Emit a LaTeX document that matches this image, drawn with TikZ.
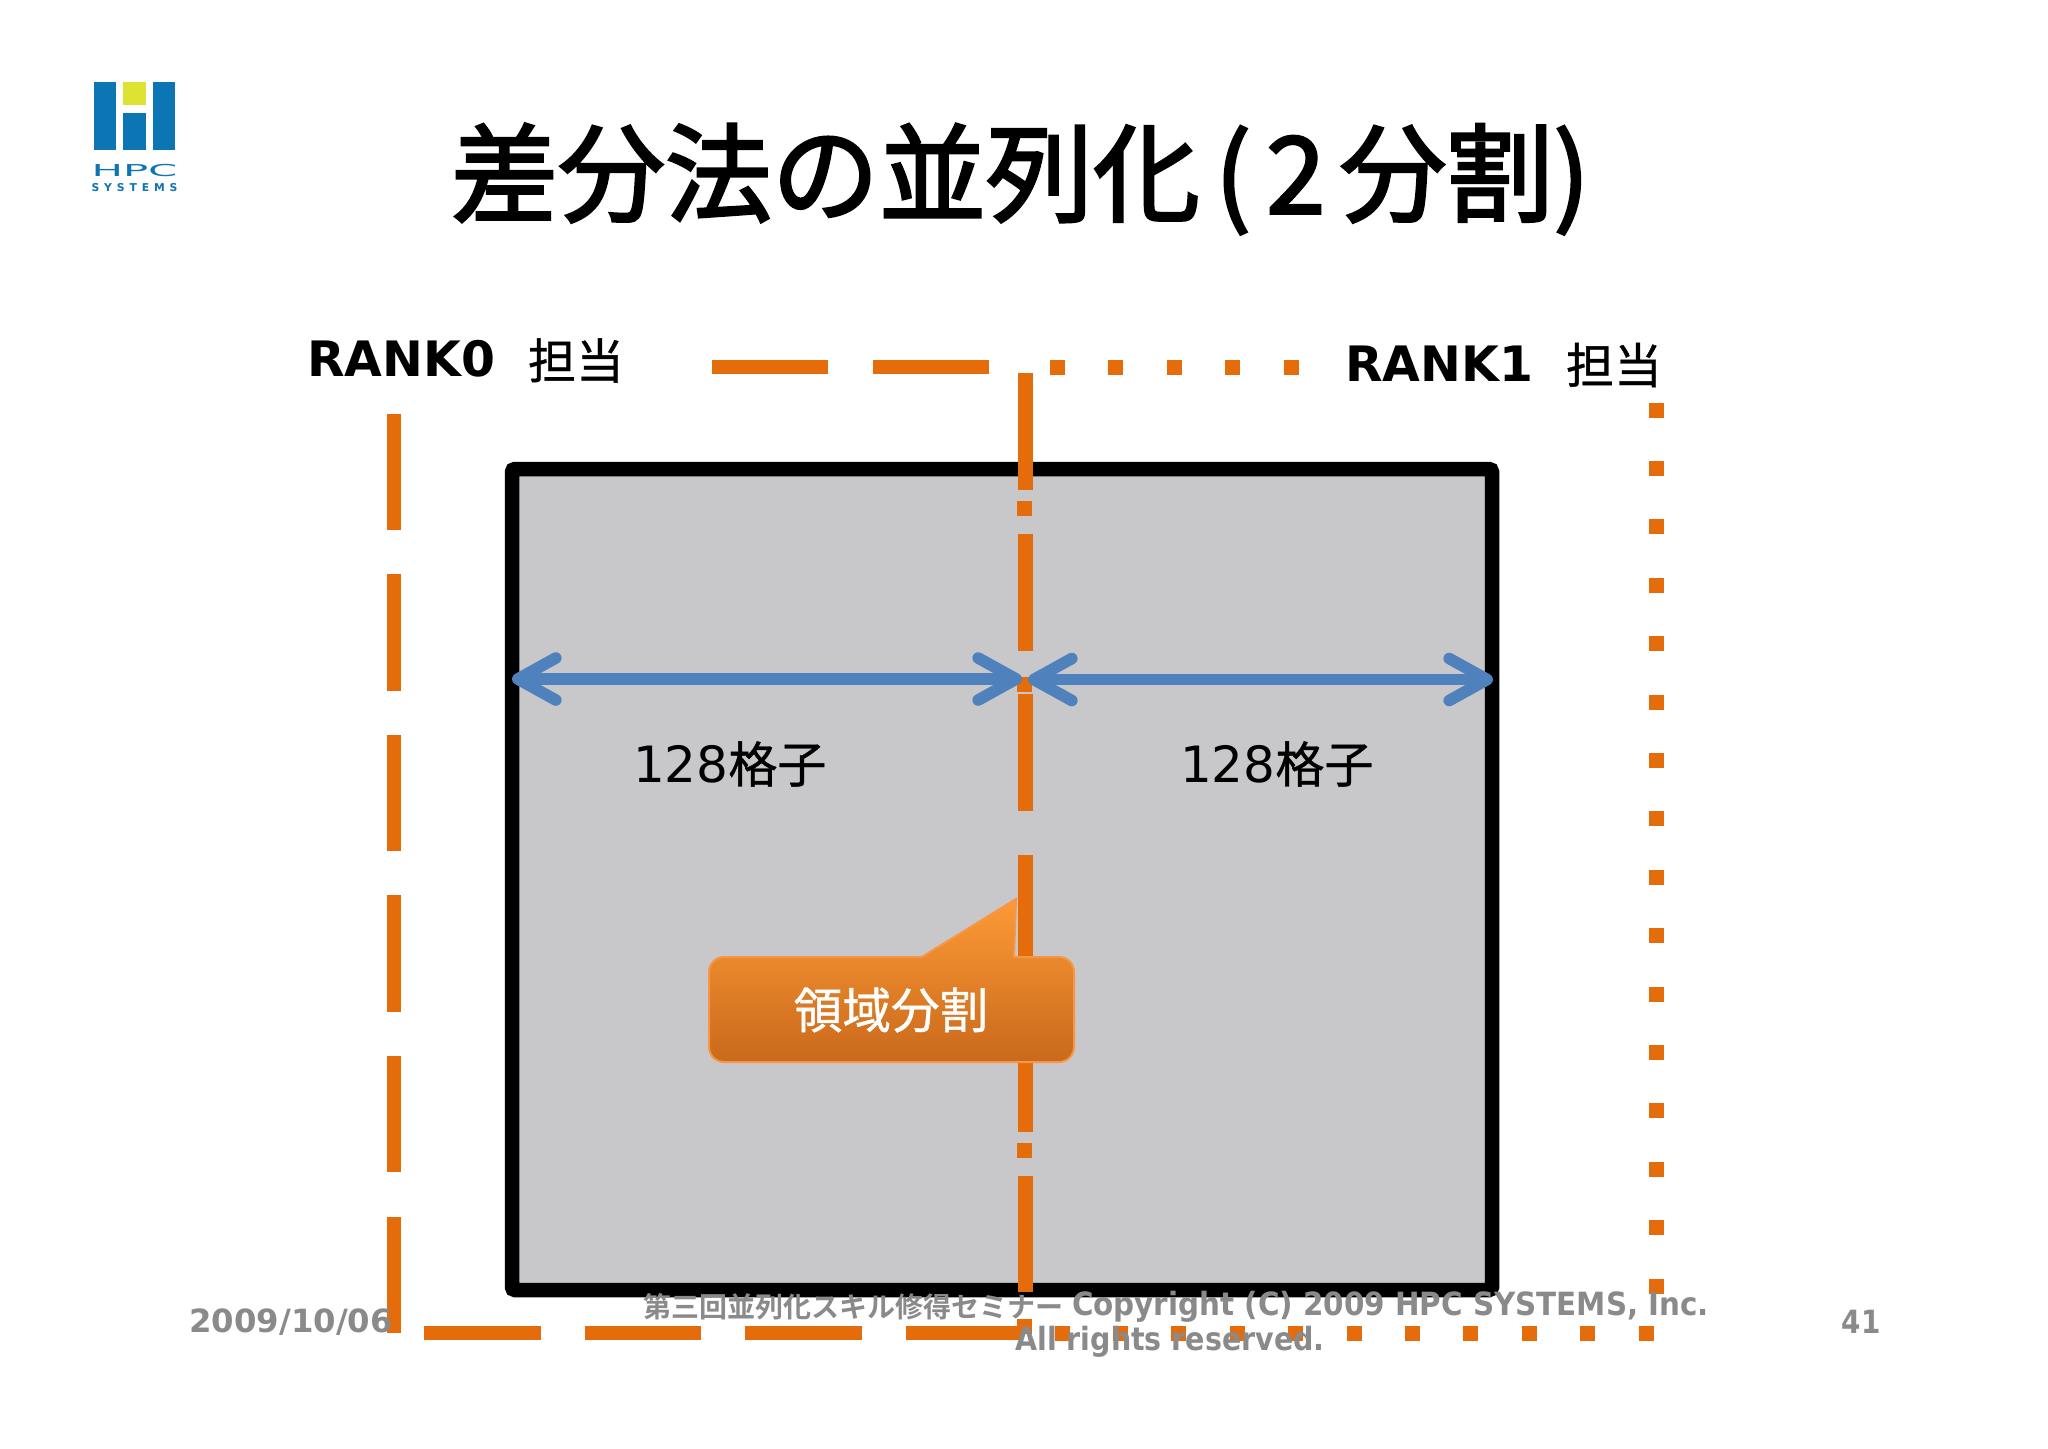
\documentclass[tikz,border=0pt]{standalone}
\usepackage{fontspec}
\setmainfont{DejaVu Sans}
\newfontfamily\cjk[FakeBold=0.8]{Noto Sans CJK JP}
\newfontfamily\cjktitle[FakeBold=2.4]{Noto Sans CJK JP}
\newfontfamily\cjkfoot[BoldFont={Noto Sans CJK JP Bold}]{Noto Sans CJK JP}
\newfontfamily\logofont[LetterSpace=45]{DejaVu Sans Bold}
\usetikzlibrary{arrows.meta}
\definecolor{orangeline}{HTML}{E46C0A}
\definecolor{panelgrey}{HTML}{C8C7C9}
\definecolor{arrowblue}{HTML}{4F81BD}
\definecolor{footgrey}{HTML}{8A8A8A}
\definecolor{logoblue}{HTML}{0B76B3}
\definecolor{logoyellow}{HTML}{DDE333}
\definecolor{calltop}{HTML}{FD9A36}
\definecolor{callbot}{HTML}{C9691C}
\definecolor{callrim}{HTML}{F79646}
\newcommand{\sz}[1]{\fontsize{#1}{#1}\selectfont}
\tikzset{
  x=0.5pt,y=-0.5pt,
  lbl/.style={inner sep=0pt,outer sep=0pt},
  oline/.style={draw=orangeline,line width=7.25pt},
  longdash/.style={oline,dash pattern=on 58.25pt off 22.05pt},
  centredash/.style={oline,dash pattern=on 58.5pt off 21.8pt},
  square/.style={fill=orangeline,draw=none,minimum size=7.5pt,inner sep=0pt,outer sep=0pt},
  span/.style={draw=arrowblue,line width=5.8pt,{Straight Barb[length=19pt,width=21pt,round]}-{Straight Barb[length=19pt,width=21pt,round]}},
  foot/.style={lbl,text=footgrey,font=\bfseries\sz{16}},
}
\begin{document}
\begin{tikzpicture}
\useasboundingbox (0,0) rectangle (2048,1448);
\fill[white] (0,0) rectangle (2048,1448);
% logo
\fill[logoblue] (94,82) rectangle (116,150);
\fill[logoyellow] (123,82) rectangle (146,105);
\fill[logoblue] (123,113) rectangle (146,150);
\fill[logoblue] (153,82) rectangle (175,150);
\node[lbl,text=logoblue,font=\sz{8.2},xscale=2.55] (hpc) at (134.5,171) {HPC};
\node[lbl,text=logoblue,font=\logofont\sz{5.4}] (sys) at (134.5,187.5) {SYSTEMS};
% title
\node[lbl,anchor=west,font=\cjktitle\sz{53.5}] (title) at (451,179)
  {差分法の並列化\hspace{7.5pt}(\hspace{7.5pt}2\hspace{7pt}分割\hspace{0pt})};
% panel
\draw[fill=panelgrey,line width=7.25pt,rounded corners=1.5pt] (512,469) rectangle (1492,1290);
% rank 0 outline
\draw[longdash] (394,1333) -- (394,414);
\draw[longdash] (989,367) -- (712,367);
\draw[longdash] (424,1333) -- (1024,1333);
% rank 1 outline
\foreach \i in {0,...,4} \node[square] (t\i) at ({1057.5+58.4*\i},367) {};
\foreach \i in {0,...,15} \node[square] (r\i) at (1656,{410+58.4*\i}) {};
\foreach \i in {0,...,10} \node[square] (b\i) at ({1062+58.4*\i},1333) {};
% divider
\draw[centredash] (1025.5,373) -- (1025.5,1292);
\foreach \y [count=\i] in {508.5,684,1150.5,1326} \node[square] (d\i) at (1024,\y) {};
% spans
\coordinate (ll) at (512,679);
\coordinate (lr) at (1022,679);
\coordinate (rl) at (1028,679.5);
\coordinate (rr) at (1493,679.5);
\draw[span] (ll) -- (lr);
\draw[span] (rl) -- (rr);
\node[lbl,anchor=west,font=\sz{25}] (g0) at (633,764) {128{\cjk\sz{24.5}格子}};
\node[lbl,anchor=west,font=\sz{25}] (g1) at (1180,764) {128{\cjk\sz{24.5}格子}};
% rank labels
\node[lbl,anchor=west,font=\bfseries\sz{24.4}] (r0) at (307,358.5) {RANK0};
\node[lbl,anchor=west,font=\cjk\sz{24}] (r0j) at (528,360.5) {担当};
\node[lbl,anchor=west,font=\bfseries\sz{24.4}] (r1) at (1345,364) {RANK1};
\node[lbl,anchor=west,font=\cjk\sz{24}] (r1j) at (1566,365) {担当};
% callout
\path[draw=callrim,line width=1pt,top color=calltop,bottom color=callbot]
  (921.7,957) [sharp corners] -- (1016,899) -- (1014,957)
  [rounded corners=7.5pt] -- (1074,957) -- (1074,1062) -- (709,1062) -- (709,957) [sharp corners] -- cycle;
\node[lbl,text=white,font=\cjk\sz{24.3}] (cap) at (891,1010) {領域分割};
% footer
\node[foot,xscale=1.01] (date) at (291,1322) {2009/10/06};
\node[foot,anchor=west,xscale=0.918] (f1) at (1072,1307) {Copyright (C) 2009 HPC SYSTEMS, Inc.};
\node[foot,anchor=west,font=\cjkfoot\bfseries\sz{14}] (f0) at (643,1307) {第三回並列化スキル修得セミナー};
\node[foot,xscale=0.891] (f2) at (1170,1342) {All rights reserved.};
\node[foot,xscale=0.87] (page) at (1861,1322) {41};
\end{tikzpicture}
\end{document}
